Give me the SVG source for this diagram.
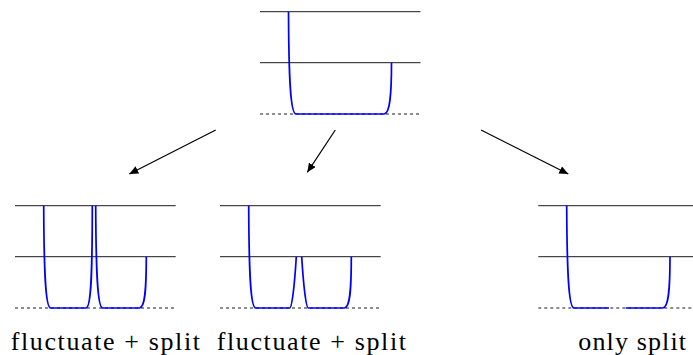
<svg xmlns="http://www.w3.org/2000/svg" width="693" height="355" viewBox="0 0 693 355">
<style>
.lv{stroke:#000;stroke-width:0.9;fill:none}
.dl{stroke:#000;stroke-width:0.9;stroke-dasharray:3,3;fill:none}
.bl{stroke:#0000ff;stroke-width:1.7;fill:none}
.ar{stroke:#000;stroke-width:1.2;fill:none}
.lb{font-family:'Liberation Serif','Times New Roman',Times,'DejaVu Serif','Noto Serif',serif;font-size:26px;fill:#000}
</style>
<defs>
<marker id="ah" markerWidth="10" markerHeight="8" refX="9" refY="4" orient="auto" markerUnits="userSpaceOnUse">
<path d="M0,0 L9,4 L0,8 Z" fill="#000"/>
</marker>
</defs>
<g id="top" transform="translate(260,11.7)">
<line class="lv" x1="0" y1="0" x2="160.5" y2="0"/>
<line class="lv" x1="0" y1="51" x2="160.5" y2="51"/>
<line class="dl" x1="0" y1="102.3" x2="160.5" y2="102.3"/>
<path class="bl" d="M28.5,0 C28.8,65 30.3,102.3 36,102.3 L124,102.3 C129.7,102.3 131.5,85 131.5,51"/>
</g>
<g id="left" transform="translate(15,205.7)">
<line class="lv" x1="0" y1="0" x2="160.7" y2="0"/>
<line class="lv" x1="0" y1="51" x2="160.7" y2="51"/>
<line class="dl" x1="0" y1="102.3" x2="160.7" y2="102.3"/>
<path class="bl" d="M28.7,0 C29,65 30.3,102.3 35.7,102.3 L71,102.3 C76.4,102.3 77.3,65 77.3,0"/>
<path class="bl" d="M80.7,0 C81,65 82.3,102.3 87.7,102.3 L124.3,102.3 C130,102.3 131.3,85 131.3,51"/>
</g>
<g id="middle" transform="translate(220,205.7)">
<line class="lv" x1="0" y1="0" x2="160.7" y2="0"/>
<line class="lv" x1="0" y1="51" x2="160.7" y2="51"/>
<line class="dl" x1="0" y1="102.3" x2="160.7" y2="102.3"/>
<path class="bl" d="M28.7,0 C29,65 30.3,102.3 35.7,102.3 L69.7,102.3 C72,102.3 74.5,80 76.3,51"/>
<path class="bl" d="M81.7,51 C83.5,80 86,102.3 88.3,102.3 L124.3,102.3 C130,102.3 131.3,85 131.3,51"/>
</g>
<g id="right" transform="translate(538.3,205.7)">
<line class="lv" x1="0" y1="0" x2="160" y2="0"/>
<line class="lv" x1="0" y1="51" x2="160" y2="51"/>
<line class="dl" x1="0" y1="102.3" x2="160" y2="102.3"/>
<path class="bl" d="M28.4,0 C28.7,65 30.2,102.3 35.7,102.3 L70.7,102.3"/>
<path class="bl" d="M87.4,102.3 L124.4,102.3 C130.1,102.3 131.7,85 131.7,51"/>
</g>
<g id="connectors">
<line class="ar" x1="215.7" y1="130" x2="129.3" y2="174" marker-end="url(#ah)"/>
<line class="ar" x1="335.3" y1="130" x2="307.3" y2="172.3" marker-end="url(#ah)"/>
<line class="ar" x1="481" y1="130" x2="568.3" y2="174" marker-end="url(#ah)"/>
</g>
<g id="labels">
<text class="lb" x="10.7" y="350.3" textLength="189.3" lengthAdjust="spacing">fluctuate + split</text>
<text class="lb" x="216.7" y="350.3" textLength="189.3" lengthAdjust="spacing">fluctuate + split</text>
<text class="lb" x="578.3" y="350.3" textLength="107.7" lengthAdjust="spacing">only split</text>
</g>
</svg>
